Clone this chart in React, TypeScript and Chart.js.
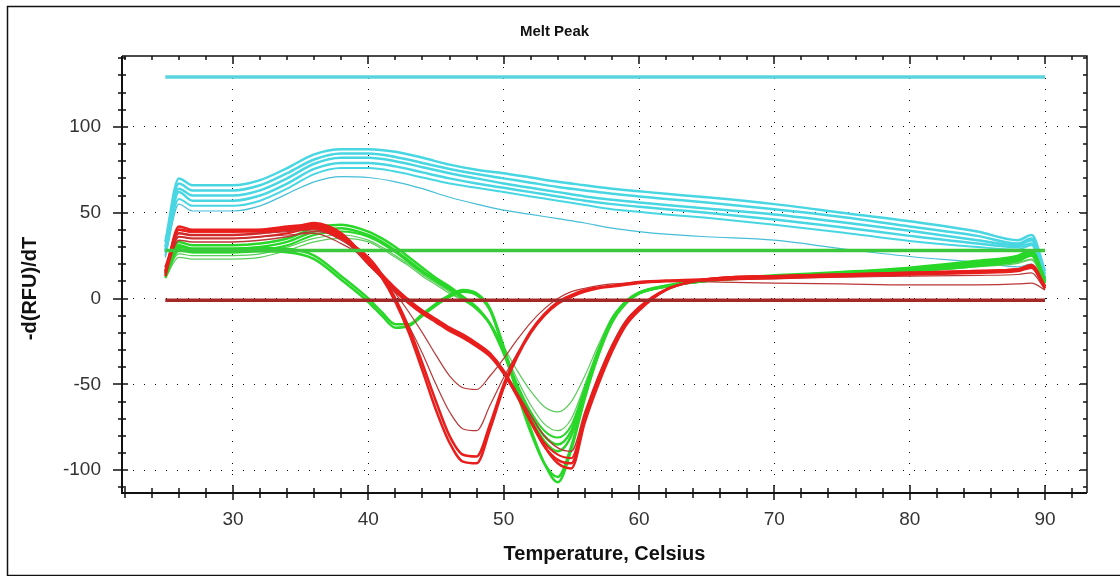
import React, { useEffect, useRef } from "react";
import { Chart, registerables } from "chart.js";

Chart.register(...registerables);

const TITLE = "Melt Peak";
const X_TITLE = "Temperature, Celsius";
const Y_TITLE = "-d(RFU)/dT";
const X_TICKS = [30, 40, 50, 60, 70, 80, 90];
const Y_TICKS = [-100, -50, 0, 50, 100];
const X_MIN = 21.8;
const X_MAX = 93.1;
const Y_MIN = -113.3;
const Y_MAX = 141.3;

// temperature grids
const TEMPS_COARSE = [25, 26, 27, 28, 30, 32, 34, 36, 38, 40, 42, 44, 46, 48, 50, 52, 54, 56, 58, 60, 62, 65, 70, 75, 80, 85, 88, 89, 90];
const TEMPS_FINE = [25, 26, 27, 28, 30, 32, 34, 36, 38, 40, 41, 42, 43, 44, 45, 46, 47, 48, 49, 50, 51, 52, 53, 54, 55, 56, 57, 58, 59, 60, 62, 64, 66, 70, 75, 80, 85, 88, 89, 90];
const TEMPS_FLAT = [25, 90];

// threshold-like flat lines
const FLAT_CYAN = [129, 129];
const FLAT_GREEN = [28, 28];
const FLAT_DARKRED = [-1, -1];

// cyan curves (coarse grid)
const CYAN_1 = [33, 70, 66, 66, 66, 69, 76, 84, 87, 87, 85.5, 82, 78, 75, 73, 70.5, 68, 66, 64, 62.5, 61, 59, 55, 50, 45, 39, 34, 37, 16];
const CYAN_2 = [30, 67, 63, 63, 63, 66, 73, 81, 84.5, 84.5, 82.5, 79, 75.5, 72.5, 70, 67.5, 65, 63, 61, 59.5, 58, 56, 52, 47.5, 42, 36.5, 32, 35, 14];
const CYAN_3 = [28, 64, 60, 60, 60, 63, 70, 78.5, 82, 82, 80, 76.5, 73, 70, 67, 64.5, 62, 59.5, 57.5, 56, 54.5, 52.5, 49, 44.5, 39.5, 34, 31, 34, 12];
const CYAN_4 = [27, 62, 57, 57, 57, 60, 67, 75.5, 79, 79, 77, 73.5, 70, 67, 64.5, 62, 59.5, 57, 55, 53.5, 52, 50, 46, 41.5, 36.5, 32, 30, 32, 10];
const CYAN_5 = [25, 58, 54, 54, 54, 57, 64, 72.5, 76, 76, 74, 70.5, 67, 64.5, 62, 59.5, 57, 54.5, 52, 50.5, 49, 47, 43, 38.5, 33.5, 30, 28.5, 31, 9];
const CYAN_6 = [24, 55, 51, 51, 51, 54, 61, 68, 71, 70.5, 68, 64, 59, 55, 51.5, 49, 46.5, 44, 41, 39, 37.5, 36, 34, 29, 24.5, 21, 18.5, 20, 7];

// green curves (fine grid)
const GREEN_1 = [14, 30, 29, 29, 29, 29.5, 29, 25, 13, 0, -8, -15, -15, -9, -3, 2, 5, 3, -6, -28, -53, -76, -96, -107, -88, -58, -33, -14, -3, 3, 7, 9.5, 11, 12.5, 14, 16, 19, 22, 25, 9];
const GREEN_2 = [12, 28, 27, 27, 27, 27.5, 27, 23, 11, -2, -10, -17, -16, -10, -4, 1, 4, 2, -7, -30, -55, -78, -96, -104, -86, -57, -32, -13, -2, 3.5, 7.5, 10, 11.5, 13, 15, 17, 20, 23, 26, 10];
const GREEN_3 = [16, 33, 31, 31, 31, 32, 35, 41, 43, 39, 35, 30, 24, 18, 12, 7, 1, -5, -15, -32, -52, -70, -83, -89, -80, -55, -32, -13, -3, 3, 7, 9.5, 11, 13, 15, 17.5, 21, 24, 27, 10];
const GREEN_4 = [15, 31, 29, 29, 29, 30, 33, 39, 41, 37, 33, 28, 22, 16, 11, 6, 0, -6, -15, -31, -51, -68, -80, -85, -77, -54, -31, -12, -2, 3.5, 7.5, 10, 11.5, 13.5, 15.5, 18, 22, 25, 28, 11];
const GREEN_5 = [14, 29, 27, 27, 27, 28, 31, 37, 39, 36, 32, 27, 21, 15, 10, 5, 0, -6, -15, -31, -50, -66, -77, -81, -74, -52, -30, -12, -2, 3, 7, 9.5, 11, 12.5, 14.5, 16.5, 19.5, 22, 25, 9];
const GREEN_6 = [13, 26, 25, 25, 25, 26, 30, 35, 37, 34, 30, 25, 20, 14, 9, 4, -1, -6, -15, -30, -47, -62, -73, -77, -70, -50, -29, -12, -2, 3, 7, 9, 10.5, 12, 14, 16, 19, 21, 23, 8];
const GREEN_7 = [12, 24, 23, 23, 23, 24, 28, 33, 35, 33, 29, 24, 19, 13, 8, 3, -1, -5, -14, -28, -42, -54, -63, -66, -60, -45, -27, -11, -2, 3, 7, 9, 10.5, 12, 14, 15.5, 18.5, 20.5, 22.5, 8];

// red curves (fine grid)
const RED_1 = [13, 42, 40, 40, 40, 40, 41, 42, 36, 22, 12, -2, -20, -42, -65, -84, -95, -96, -76, -52, -34, -20, -10, -3, 1, 4, 6, 7, 8, 9, 10, 10.5, 11, 12, 13, 14, 15, 16, 18, 6];
const RED_2 = [15, 40, 39, 39, 39, 39, 40, 41, 35, 24, 14, 0, -17, -38, -60, -80, -91, -92, -73, -50, -33, -19, -9, -2, 2, 5, 6.5, 7.5, 8.5, 9.5, 10.5, 11, 11.5, 12.5, 13.5, 14.5, 15.5, 16.5, 18.5, 6];
const RED_3 = [16, 38, 37, 37, 37, 38, 39, 40, 34, 22, 12, -2, -16, -32, -50, -66, -76, -77, -62, -46, -32, -20, -10, -3, 2, 4, 6, 7, 8, 9, 10, 10.5, 11, 11.5, 12.5, 13, 13.5, 14, 15, 5];
const RED_4 = [17, 36, 35, 35, 35, 36, 37, 38, 32, 22, 13, 3, -8, -20, -33, -45, -52, -53, -45, -35, -24, -14, -6, 0, 4, 6, 7.5, 8.5, 9, 10, 10.5, 10, 9.5, 9, 8.5, 8, 8, 8.5, 9, 5];
const RED_5 = [18, 38, 37, 37, 37, 38, 40, 44, 38, 22, 14, 6, -1, -7, -12, -17, -21, -26, -32, -42, -56, -71, -86, -96, -99, -72, -50, -31, -16, -7, 5, 10, 12, 13, 14, 15, 16, 17, 19.5, 7];
const RED_6 = [16, 40, 39, 39, 39, 40, 42, 43, 37, 21, 13, 5, -2, -8, -13, -18, -22, -27, -33, -43, -57, -72, -86, -94, -96, -70, -48, -29, -15, -6, 5, 10, 12, 13, 14, 15, 16, 17, 19, 7];
const RED_7 = [15, 36, 35, 35, 35, 36, 38, 41, 36, 20, 12, 4, -3, -9, -14, -19, -23, -28, -34, -44, -57, -71, -84, -91, -93, -68, -46, -28, -14, -5, 5.5, 10, 12, 13, 14, 14.5, 15.5, 16.5, 18.5, 6];
const RED_8 = [14, 34, 33, 33, 33, 34, 36, 39, 35, 20, 12, 4, -2, -8, -13, -18, -22, -27, -33, -42, -55, -68, -80, -87, -89, -66, -45, -27, -13, -5, 5, 9.5, 11.5, 12.5, 13.5, 14, 15, 16, 18, 6];

const FONT = "'Liberation Sans', Arial, Helvetica, sans-serif";

function series(temps: number[], vals: number[], color: string, width: number) {
  return {
    data: temps.map((t, i) => ({ x: t, y: vals[i] })),
    borderColor: color,
    backgroundColor: color,
    borderWidth: width,
    pointRadius: 0,
    fill: false,
    tension: 0.35,
    cubicInterpolationMode: "monotone" as const,
  };
}

const frame = {
  id: "frame",
  beforeDraw(chart: any) {
    const ctx = chart.ctx;
    ctx.save();
    ctx.fillStyle = "#ffffff";
    ctx.fillRect(0, 0, chart.width, chart.height);
    ctx.strokeStyle = "#111";
    ctx.lineWidth = 1.5;
    ctx.strokeRect(7.5, 6.5, chart.width + 20, 569);
    ctx.restore();
  },
  afterDatasetsDraw(chart: any) {
    const ctx = chart.ctx;
    const a = chart.chartArea;
    const xs = chart.scales.x;
    const ys = chart.scales.y;
    ctx.save();
    ctx.strokeStyle = "#111";
    ctx.lineWidth = 2;
    ctx.beginPath();
    ctx.moveTo(a.left, a.top);
    ctx.lineTo(a.left, a.bottom);
    ctx.lineTo(a.right, a.bottom);
    ctx.stroke();
    ctx.lineWidth = 1.5;
    ctx.beginPath();
    ctx.moveTo(a.left, a.top);
    ctx.lineTo(a.right, a.top);
    ctx.lineTo(a.right, a.bottom);
    ctx.stroke();
    ctx.lineWidth = 1.5;
    ctx.beginPath();
    for (let v = Math.ceil(X_MIN / 2) * 2; v <= X_MAX; v += 2) {
      const px = Math.round(xs.getPixelForValue(v));
      const major = v % 10 === 0;
      ctx.moveTo(px, a.bottom - (major ? 8 : 5));
      ctx.lineTo(px, a.bottom + (major ? 7 : 5));
      ctx.moveTo(px, a.top);
      ctx.lineTo(px, a.top + (major ? 8 : 4));
    }
    for (let v = Math.ceil(Y_MIN / 10) * 10; v <= Y_MAX; v += 10) {
      const py = Math.round(ys.getPixelForValue(v));
      const major = v % 50 === 0;
      ctx.moveTo(a.left - (major ? 9 : 4), py);
      ctx.lineTo(a.left + (major ? 6 : 4), py);
      ctx.moveTo(a.right, py);
      ctx.lineTo(a.right - (major ? 7 : 4), py);
    }
    ctx.stroke();
    ctx.restore();
  },
  afterDraw(chart: any) {
    // vertical axis title, placed to the left of the tick labels
    const ctx = chart.ctx;
    const a = chart.chartArea;
    ctx.save();
    ctx.translate(30, (a.top + a.bottom) / 2 + 14);
    ctx.rotate(-Math.PI / 2);
    ctx.fillStyle = "#111";
    ctx.font = `bold 20px ${FONT}`;
    ctx.textAlign = "center";
    ctx.textBaseline = "middle";
    ctx.fillText(Y_TITLE, 0, 0);
    ctx.restore();
  },
};

export default function App() {
  const ref = useRef<HTMLCanvasElement>(null);
  useEffect(() => {
    document.body.style.margin = "0";
    const CYAN = "rgb(72, 214, 226)";
    const CYAN_THIN = "rgb(70, 190, 215)";
    const GREEN = "rgb(40, 215, 40)";
    const GREEN_THIN = "rgb(90, 205, 90)";
    const RED = "rgb(232, 30, 28)";
    const RED_THIN = "rgb(185, 55, 55)";
    const datasets = [
      series(TEMPS_FLAT, FLAT_DARKRED, "rgb(165, 40, 40)", 3.5),
      series(TEMPS_FLAT, FLAT_GREEN, "rgb(60, 200, 60)", 3.5),
      series(TEMPS_FLAT, FLAT_CYAN, "rgb(90, 212, 222)", 3.5),
      series(TEMPS_FINE, RED_1, RED, 2.5),
      series(TEMPS_FINE, RED_2, RED, 2.5),
      series(TEMPS_FINE, RED_3, RED_THIN, 1.2),
      series(TEMPS_FINE, RED_4, RED_THIN, 1.2),
      series(TEMPS_FINE, RED_5, RED, 2.5),
      series(TEMPS_FINE, RED_6, RED, 2.5),
      series(TEMPS_FINE, RED_7, RED, 2),
      series(TEMPS_FINE, RED_8, RED_THIN, 1.5),
      series(TEMPS_FINE, GREEN_1, GREEN, 2.5),
      series(TEMPS_FINE, GREEN_2, GREEN, 2.5),
      series(TEMPS_FINE, GREEN_3, GREEN, 2.5),
      series(TEMPS_FINE, GREEN_4, GREEN, 2.5),
      series(TEMPS_FINE, GREEN_5, GREEN, 2),
      series(TEMPS_FINE, GREEN_6, GREEN_THIN, 1.2),
      series(TEMPS_FINE, GREEN_7, GREEN_THIN, 1.2),
      series(TEMPS_COARSE, CYAN_1, CYAN, 2.5),
      series(TEMPS_COARSE, CYAN_2, CYAN, 2.5),
      series(TEMPS_COARSE, CYAN_3, CYAN, 2.5),
      series(TEMPS_COARSE, CYAN_4, CYAN, 2.5),
      series(TEMPS_COARSE, CYAN_5, CYAN, 2),
      series(TEMPS_COARSE, CYAN_6, CYAN_THIN, 1.2),
    ];
    const chart = new Chart(ref.current as HTMLCanvasElement, {
      type: "line",
      data: { datasets },
      plugins: [frame],
      options: {
        animation: false,
        responsive: false,
        devicePixelRatio: 1,
        layout: { padding: { top: 0, left: 22, right: 33, bottom: 0 } },
        plugins: {
          legend: { display: false },
          tooltip: { enabled: false },
          title: {
            display: true,
            text: TITLE,
            color: "#111",
            font: { family: FONT, size: 15, weight: "bold" },
            padding: { top: 23, bottom: 15 },
          },
        },
        scales: {
          x: {
            type: "linear",
            min: X_MIN,
            max: X_MAX,
            afterBuildTicks: (s: any) => {
              s.ticks = X_TICKS.map((v) => ({ value: v }));
            },
            afterFit: (s: any) => {
              s.height = 83;
            },
            grid: { color: "#000", lineWidth: 1, drawTicks: false },
            border: { display: false, dash: [1, 10] },
            ticks: {
              autoSkip: false,
              maxRotation: 0,
              padding: 15,
              color: "#333",
              font: { family: FONT, size: 19 },
              callback: (v: any) => String(v),
            },
            title: {
              display: true,
              text: X_TITLE,
              color: "#111",
              font: { family: FONT, size: 20, weight: "bold" },
              padding: { top: 0, bottom: 10 },
            },
          },
          y: {
            type: "linear",
            min: Y_MIN,
            max: Y_MAX,
            afterBuildTicks: (s: any) => {
              s.ticks = Y_TICKS.map((v) => ({ value: v }));
            },
            afterFit: (s: any) => {
              s.width = 100;
            },
            grid: { color: "#000", lineWidth: 1, drawTicks: false },
            border: { display: false, dash: [1, 10] },
            ticks: {
              autoSkip: false,
              padding: 21,
              color: "#333",
              font: { family: FONT, size: 19 },
              callback: (v: any) => String(v),
            },
            title: { display: false },
          },
        },
      },
    });
    return () => chart.destroy();
  }, []);
  return (
    <div style={{ position: "absolute", left: 0, top: 0, width: 1120, height: 576 }}>
      <canvas ref={ref} width={1120} height={576} style={{ display: "block" }} />
    </div>
  );
}
